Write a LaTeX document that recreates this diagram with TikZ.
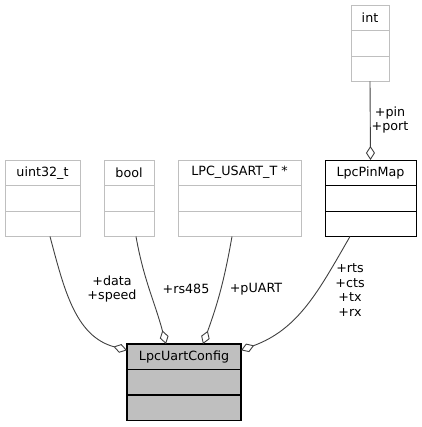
\documentclass[tikz,border=0pt]{standalone}
\usepackage{fontspec}
\setmainfont{DejaVu Sans}
\usetikzlibrary{positioning,arrows.meta}
\definecolor{extGray}{HTML}{BFBFBF}
\definecolor{edgeGray}{HTML}{404040}
\newcommand{\partHeight}[0]{25.5pt}
\newcommand{\labelFont}[0]{\fontsize{12.7}{14.5}\selectfont}

\begin{document}
\begin{tikzpicture}[x=1pt, y=1pt, font=\labelFont]
  \tikzset{
    classPart/.style={draw, minimum height=\partHeight, inner sep=0pt, outer sep=0pt, anchor=north, line width=0.9pt},
    extClass/.style={classPart, draw=extGray},
    mainClass/.style={classPart, fill=extGray, line width=1.1pt},
    aggr/.style={draw=edgeGray, line width=0.9pt, -{Diamond[open, length=14pt, width=9pt]}},
    memberLabel/.style={align=center, inner sep=0pt}
  }
  \useasboundingbox (0,0) rectangle (421,427);
  % external types
  \node[extClass, minimum width=38pt] (intT) at (370,422) {int};
  \node[extClass, minimum width=38pt, below=0pt of intT] (intM) {};
  \node[extClass, minimum width=38pt, below=0pt of intM] (intB) {};
  \node[extClass, minimum width=75pt] (uintT) at (42.5,267) {uint32\_t};
  \node[extClass, minimum width=75pt, below=0pt of uintT] (uintM) {};
  \node[extClass, minimum width=75pt, below=0pt of uintM] (uintB) {};
  \node[extClass, minimum width=50pt] (boolT) at (129,267) {bool};
  \node[extClass, minimum width=50pt, below=0pt of boolT] (boolM) {};
  \node[extClass, minimum width=50pt, below=0pt of boolM] (boolB) {};
  \node[extClass, minimum width=123pt] (usartT) at (239.5,267) {LPC\_USART\_T *};
  \node[extClass, minimum width=123pt, below=0pt of usartT] (usartM) {};
  \node[extClass, minimum width=123pt, below=0pt of usartM] (usartB) {};
  % pin map
  \node[classPart, minimum width=91pt] (pinT) at (370.5,267) {LpcPinMap};
  \node[classPart, minimum width=91pt, below=0pt of pinT] (pinM) {};
  \node[classPart, minimum width=91pt, below=0pt of pinM] (pinB) {};
  % uart config
  \node[mainClass, minimum width=114pt] (cfgT) at (184,83) {LpcUartConfig};
  \node[mainClass, minimum width=114pt, below=0pt of cfgT] (cfgM) {};
  \node[mainClass, minimum width=114pt, below=0pt of cfgM] (cfgB) {};
  % members
  \draw[aggr] (intB.south) -- (pinT.north);
  \draw[aggr] ([xshift=7.5pt]uintB.south) to[out=-75, in=165] ([yshift=6.5pt]cfgT.west);
  \draw[aggr] ([xshift=7pt]boolB.south) to[out=-80, in=105] ([xshift=-18pt]cfgT.north);
  \draw[aggr] ([xshift=-7.5pt]usartB.south) to[out=-100, in=70] ([xshift=19pt]cfgT.north);
  \draw[aggr] ([xshift=-20.5pt]pinB.south) to[out=-120, in=20] ([yshift=6.5pt]cfgT.east);
  \node[memberLabel] (portLbl) at (390,307) {+pin\\+port};
  \node[memberLabel] (dataLbl) at (112,138) {+data\\+speed};
  \node[memberLabel] (rsLbl) at (186,138) {+rs485};
  \node[memberLabel] (uartLbl) at (256,138) {+pUART};
  \node[memberLabel] (pinsLbl) at (350,137) {+rts\\+cts\\+tx\\+rx};
\end{tikzpicture}
\end{document}
